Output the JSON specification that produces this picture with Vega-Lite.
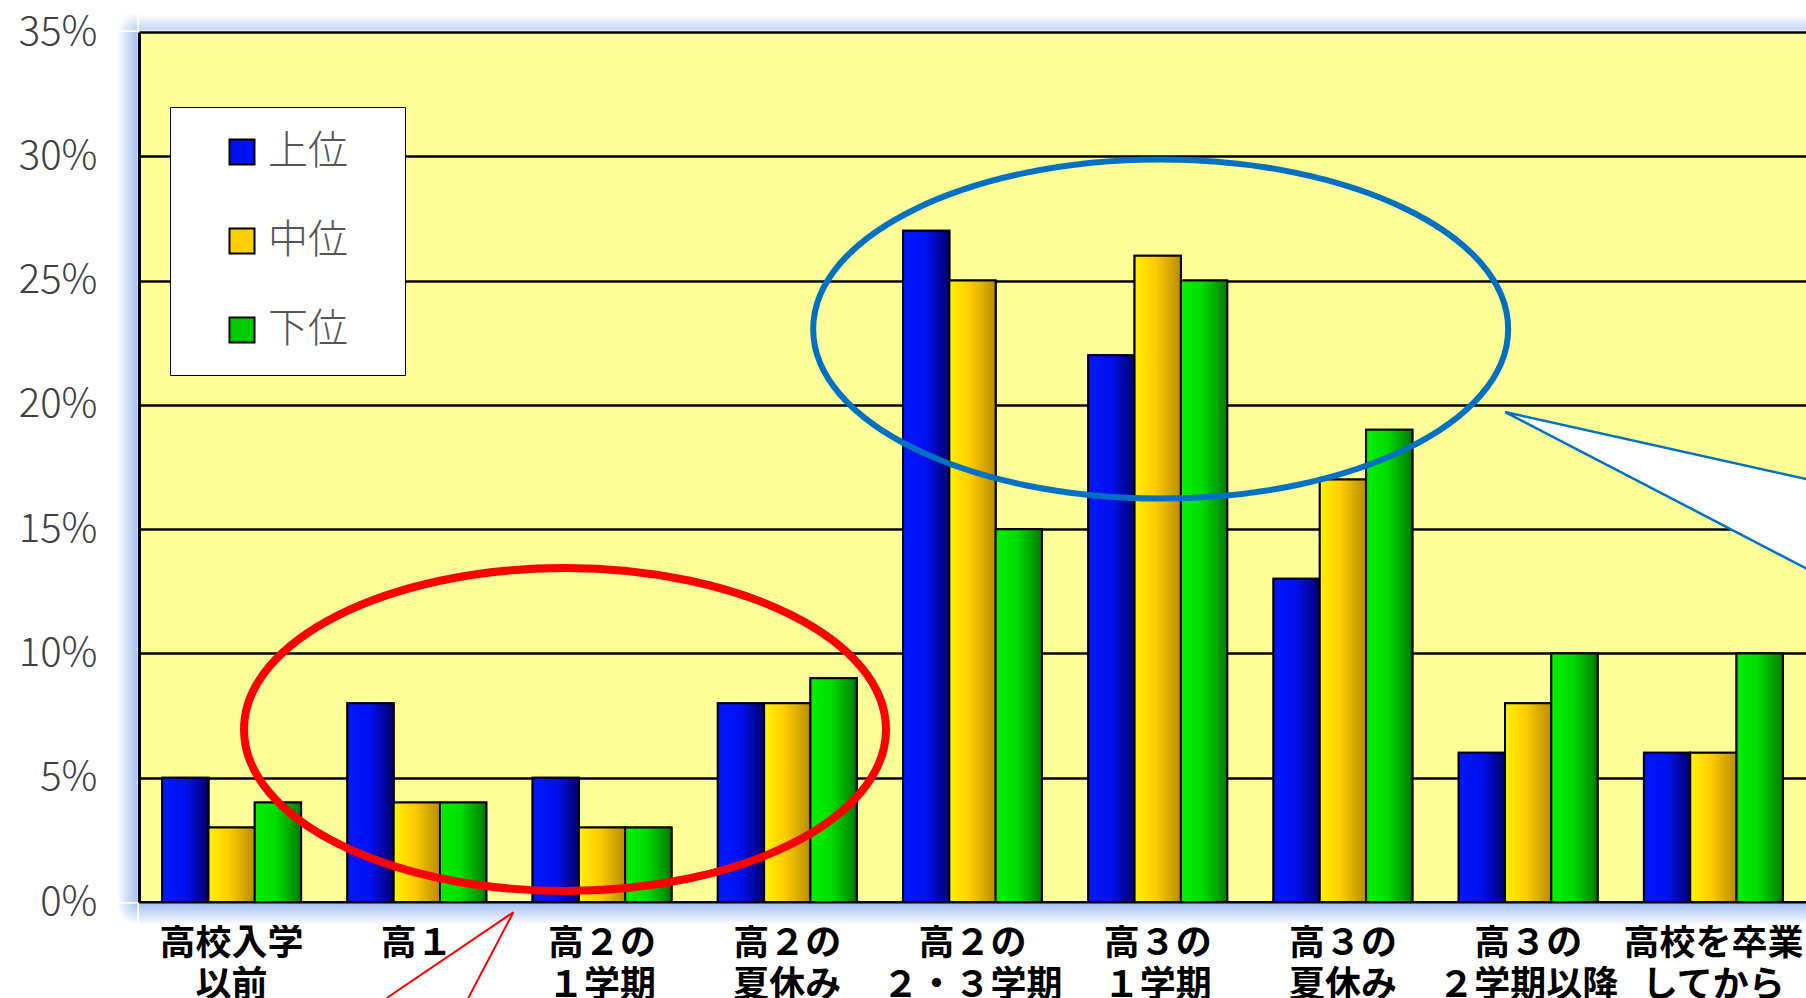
{
  "$schema": "https://vega.github.io/schema/vega-lite/v6.json",
  "width": 1667,
  "height": 870,
  "autosize": "none",
  "padding": {"left": 139, "top": 32, "right": 0, "bottom": 96},
  "background": "#ffffff",
  "datasets": {
    "bars": [
      {"時期": "高校入学\n以前", "層": "上位", "割合": 5},
      {"時期": "高校入学\n以前", "層": "中位", "割合": 3},
      {"時期": "高校入学\n以前", "層": "下位", "割合": 4},
      {"時期": "高１", "層": "上位", "割合": 8},
      {"時期": "高１", "層": "中位", "割合": 4},
      {"時期": "高１", "層": "下位", "割合": 4},
      {"時期": "高２の\n１学期", "層": "上位", "割合": 5},
      {"時期": "高２の\n１学期", "層": "中位", "割合": 3},
      {"時期": "高２の\n１学期", "層": "下位", "割合": 3},
      {"時期": "高２の\n夏休み", "層": "上位", "割合": 8},
      {"時期": "高２の\n夏休み", "層": "中位", "割合": 8},
      {"時期": "高２の\n夏休み", "層": "下位", "割合": 9},
      {"時期": "高２の\n２・３学期", "層": "上位", "割合": 27},
      {"時期": "高２の\n２・３学期", "層": "中位", "割合": 25},
      {"時期": "高２の\n２・３学期", "層": "下位", "割合": 15},
      {"時期": "高３の\n１学期", "層": "上位", "割合": 22},
      {"時期": "高３の\n１学期", "層": "中位", "割合": 26},
      {"時期": "高３の\n１学期", "層": "下位", "割合": 25},
      {"時期": "高３の\n夏休み", "層": "上位", "割合": 13},
      {"時期": "高３の\n夏休み", "層": "中位", "割合": 17},
      {"時期": "高３の\n夏休み", "層": "下位", "割合": 19},
      {"時期": "高３の\n２学期以降", "層": "上位", "割合": 6},
      {"時期": "高３の\n２学期以降", "層": "中位", "割合": 8},
      {"時期": "高３の\n２学期以降", "層": "下位", "割合": 10},
      {"時期": "高校を卒業\nしてから", "層": "上位", "割合": 6},
      {"時期": "高校を卒業\nしてから", "層": "中位", "割合": 6},
      {"時期": "高校を卒業\nしてから", "層": "下位", "割合": 10}
    ],
    "glowLeft": [{"ax": -0.119, "ax2": -0.008, "ay": 0, "ay2": 35}],
    "glowBottom": [{"ax": 0, "ax2": 9.2, "ay": -0.925, "ay2": -0.06}],
    "glowTop": [{"ax": 0, "ax2": 9.2, "ay": 35.06, "ay2": 35.7}],
    "glowCornerBottom": [{"ax": -0.119, "ax2": -0.008, "ay": -0.925, "ay2": -0.06}],
    "glowCornerTop": [{"ax": -0.119, "ax2": -0.008, "ay": 35.06, "ay2": 35.7}],
    "bluePointer": [
      {"ax": 7.376, "ay": 19.71, "ay2": 19.71},
      {"ax": 9.5, "ay": 16.19, "ay2": 11.49}
    ],
    "redEllipse": [{"ax": 2.3, "ay": 6.94}],
    "blueEllipse": [{"ax": 5.516, "ay": 23.05}],
    "redPointer": [
      {"ax": 2.021, "ay": -0.414, "ax2": 1.3375, "ay2": -3.862},
      {"ax": 2.021, "ay": -0.414, "ax2": 1.778, "ay2": -3.862}
    ]
  },
  "layer": [
    {
      "data": {"name": "glowLeft"},
      "mark": {"type": "rect", "fill": {"gradient": "linear", "x1": 0, "y1": 0, "x2": 1, "y2": 0, "stops": [{"offset": 0, "color": "#ffffff"}, {"offset": 1, "color": "#a4c0f2"}]}},
      "encoding": {
        "x": {"field": "ax", "type": "quantitative", "scale": {"domain": [0, 9], "nice": false, "zero": false}, "axis": null},
        "x2": {"field": "ax2"},
        "y": {"field": "ay", "type": "quantitative", "scale": {"domain": [0, 35], "nice": false}, "title": null},
        "y2": {"field": "ay2"}
      }
    },
    {
      "data": {"name": "glowBottom"},
      "mark": {"type": "rect", "fill": {"gradient": "linear", "x1": 0, "y1": 0, "x2": 0, "y2": 1, "stops": [{"offset": 0, "color": "#a4c0f2"}, {"offset": 1, "color": "#ffffff"}]}},
      "encoding": {
        "x": {"field": "ax", "type": "quantitative", "scale": {"domain": [0, 9], "nice": false, "zero": false}, "axis": null},
        "x2": {"field": "ax2"},
        "y": {"field": "ay", "type": "quantitative", "scale": {"domain": [0, 35], "nice": false}, "title": null},
        "y2": {"field": "ay2"}
      }
    },
    {
      "data": {"name": "glowTop"},
      "mark": {"type": "rect", "fill": {"gradient": "linear", "x1": 0, "y1": 1, "x2": 0, "y2": 0, "stops": [{"offset": 0, "color": "#c2d5f7"}, {"offset": 1, "color": "#ffffff"}]}},
      "encoding": {
        "x": {"field": "ax", "type": "quantitative", "scale": {"domain": [0, 9], "nice": false, "zero": false}, "axis": null},
        "x2": {"field": "ax2"},
        "y": {"field": "ay", "type": "quantitative", "scale": {"domain": [0, 35], "nice": false}, "title": null},
        "y2": {"field": "ay2"}
      }
    },
    {
      "data": {"name": "glowCornerBottom"},
      "mark": {"type": "rect", "fill": {"gradient": "radial", "x1": 1, "y1": 0, "r1": 0, "x2": 1, "y2": 0, "r2": 1, "stops": [{"offset": 0, "color": "#a4c0f2"}, {"offset": 1, "color": "#ffffff"}]}},
      "encoding": {
        "x": {"field": "ax", "type": "quantitative", "scale": {"domain": [0, 9], "nice": false, "zero": false}, "axis": null},
        "x2": {"field": "ax2"},
        "y": {"field": "ay", "type": "quantitative", "scale": {"domain": [0, 35], "nice": false}, "title": null},
        "y2": {"field": "ay2"}
      }
    },
    {
      "data": {"name": "glowCornerTop"},
      "mark": {"type": "rect", "fill": {"gradient": "radial", "x1": 1, "y1": 1, "r1": 0, "x2": 1, "y2": 1, "r2": 1, "stops": [{"offset": 0, "color": "#b4cbf5"}, {"offset": 1, "color": "#ffffff"}]}},
      "encoding": {
        "x": {"field": "ax", "type": "quantitative", "scale": {"domain": [0, 9], "nice": false, "zero": false}, "axis": null},
        "x2": {"field": "ax2"},
        "y": {"field": "ay", "type": "quantitative", "scale": {"domain": [0, 35], "nice": false}, "title": null},
        "y2": {"field": "ay2"}
      }
    },
    {
      "data": {"name": "bars"},
      "encoding": {
        "x": {
          "field": "時期",
          "type": "nominal",
          "sort": null,
          "title": null,
          "scale": {"paddingInner": 0.25, "paddingOuter": 0.125},
          "axis": {
            "title": null,
            "labelExpr": "split(datum.label, '\\n')",
            "labelAngle": 0,
            "labelFont": "Noto Sans CJK JP",
            "labelFontSize": 36,
            "labelFontWeight": "bold",
            "labelColor": "#000000",
            "labelPadding": 24,
            "labelLineHeight": 42,
            "labelLimit": 400,
            "labelOverlap": false,
            "ticks": false,
            "domainColor": "#000000",
            "domainWidth": 3
          }
        },
        "xOffset": {
          "field": "層",
          "type": "nominal",
          "sort": ["上位", "中位", "下位"],
          "scale": {"paddingInner": 0, "paddingOuter": 0}
        },
        "y": {
          "field": "割合",
          "type": "quantitative",
          "title": null,
          "scale": {"domain": [0, 35], "nice": false},
          "axis": {
            "title": null,
            "values": [0, 5, 10, 15, 20, 25, 30, 35],
            "labelExpr": "datum.value + '%'",
            "grid": true,
            "gridColor": "#000000",
            "gridWidth": 2.5,
            "ticks": false,
            "domainColor": "#000000",
            "domainWidth": 3,
            "labelFont": "Noto Sans CJK JP",
            "labelFontSize": 40,
            "labelFontWeight": 300,
            "labelColor": "#404040",
            "labelPadding": 42
          }
        }
      },
      "layer": [
        {
          "mark": {"type": "bar", "strokeWidth": 2},
          "encoding": {
            "color": {
              "field": "層",
              "type": "nominal",
              "scale": {"domain": ["上位", "中位", "下位"], "range": ["#0010f0", "#ffd000", "#00cc00"]},
              "legend": {
                "orient": "none",
                "legendX": 31,
                "legendY": 75,
                "title": "位",
                "titleOrient": "right",
                "titleColor": "#ffffff",
                "titleFontSize": 30,
                "titlePadding": 2,
                "fillColor": "#ffffff",
                "strokeColor": "#000000",
                "padding": 25,
                "rowPadding": 49,
                "symbolType": "square",
                "symbolSize": 625,
                "symbolStrokeWidth": 2,
                "symbolOpacity": 1,
                "symbolOffset": 27,
                "labelFont": "Noto Sans CJK JP",
                "labelFontSize": 40,
                "labelFontWeight": 300,
                "labelColor": "#555555",
                "labelOffset": 6
              }
            },
            "stroke": {
              "field": "層",
              "type": "nominal",
              "scale": {"domain": ["上位", "中位", "下位"], "range": ["#000000", "#000000", "#000000"]},
              "legend": {
                "orient": "none",
                "legendX": 31,
                "legendY": 75,
                "title": "位",
                "titleOrient": "right",
                "titleColor": "#ffffff",
                "titleFontSize": 30,
                "titlePadding": 2,
                "fillColor": "#ffffff",
                "strokeColor": "#000000",
                "padding": 25,
                "rowPadding": 49,
                "symbolType": "square",
                "symbolSize": 625,
                "symbolStrokeWidth": 2,
                "symbolOpacity": 1,
                "symbolOffset": 27,
                "labelFont": "Noto Sans CJK JP",
                "labelFontSize": 40,
                "labelFontWeight": 300,
                "labelColor": "#555555",
                "labelOffset": 6
              }
            }
          }
        },
        {
          "mark": {"type": "bar", "stroke": "#000000", "strokeWidth": 2},
          "encoding": {
            "fill": {
              "condition": [
                {"test": "datum['層'] === '上位'", "value": {"gradient": "linear", "x1": 0, "y1": 0, "x2": 1, "y2": 0, "stops": [{"offset": 0, "color": "#0018ff"}, {"offset": 0.5, "color": "#0010f0"}, {"offset": 1, "color": "#000068"}]}},
                {"test": "datum['層'] === '中位'", "value": {"gradient": "linear", "x1": 0, "y1": 0, "x2": 1, "y2": 0, "stops": [{"offset": 0, "color": "#fff200"}, {"offset": 0.45, "color": "#ffcc00"}, {"offset": 1, "color": "#b88c00"}]}}
              ],
              "value": {"gradient": "linear", "x1": 0, "y1": 0, "x2": 1, "y2": 0, "stops": [{"offset": 0, "color": "#00f000"}, {"offset": 0.45, "color": "#00dd00"}, {"offset": 1, "color": "#007a00"}]}
            }
          }
        }
      ]
    },
    {
      "data": {"name": "bluePointer"},
      "mark": {"type": "area", "fill": "#ffffff", "stroke": "#0070c0", "strokeWidth": 2.5, "opacity": 1},
      "encoding": {
        "x": {"field": "ax", "type": "quantitative", "scale": {"domain": [0, 9], "nice": false, "zero": false}, "axis": null},
        "y": {"field": "ay", "type": "quantitative", "scale": {"domain": [0, 35], "nice": false}, "title": null},
        "y2": {"field": "ay2"}
      }
    },
    {
      "data": {"name": "redEllipse"},
      "mark": {
        "type": "point",
        "shape": "M1,0C1,0.2778,0.5523,0.503,0,0.503C-0.5523,0.503,-1,0.2778,-1,0C-1,-0.2778,-0.5523,-0.503,0,-0.503C0.5523,-0.503,1,-0.2778,1,0Z",
        "size": 412164,
        "filled": false,
        "color": "#ff0000",
        "strokeWidth": 8,
        "opacity": 1
      },
      "encoding": {
        "x": {"field": "ax", "type": "quantitative", "scale": {"domain": [0, 9], "nice": false, "zero": false}, "axis": null},
        "y": {"field": "ay", "type": "quantitative", "scale": {"domain": [0, 35], "nice": false}, "title": null}
      }
    },
    {
      "data": {"name": "blueEllipse"},
      "mark": {
        "type": "point",
        "shape": "M1,0C1,0.2694,0.5523,0.4878,0,0.4878C-0.5523,0.4878,-1,0.2694,-1,0C-1,-0.2694,-0.5523,-0.4878,0,-0.4878C0.5523,-0.4878,1,-0.2694,1,0Z",
        "size": 483025,
        "filled": false,
        "color": "#0070c0",
        "strokeWidth": 6,
        "opacity": 1
      },
      "encoding": {
        "x": {"field": "ax", "type": "quantitative", "scale": {"domain": [0, 9], "nice": false, "zero": false}, "axis": null},
        "y": {"field": "ay", "type": "quantitative", "scale": {"domain": [0, 35], "nice": false}, "title": null}
      }
    },
    {
      "data": {"name": "redPointer"},
      "mark": {"type": "rule", "color": "#ff0000", "strokeWidth": 2},
      "encoding": {
        "x": {"field": "ax", "type": "quantitative", "scale": {"domain": [0, 9], "nice": false, "zero": false}, "axis": null},
        "x2": {"field": "ax2"},
        "y": {"field": "ay", "type": "quantitative", "scale": {"domain": [0, 35], "nice": false}, "title": null},
        "y2": {"field": "ay2"}
      }
    }
  ],
  "resolve": {"scale": {"x": "independent"}},
  "config": {
    "font": "Noto Sans CJK JP",
    "view": {"fill": "#ffff99", "stroke": null}
  }
}
